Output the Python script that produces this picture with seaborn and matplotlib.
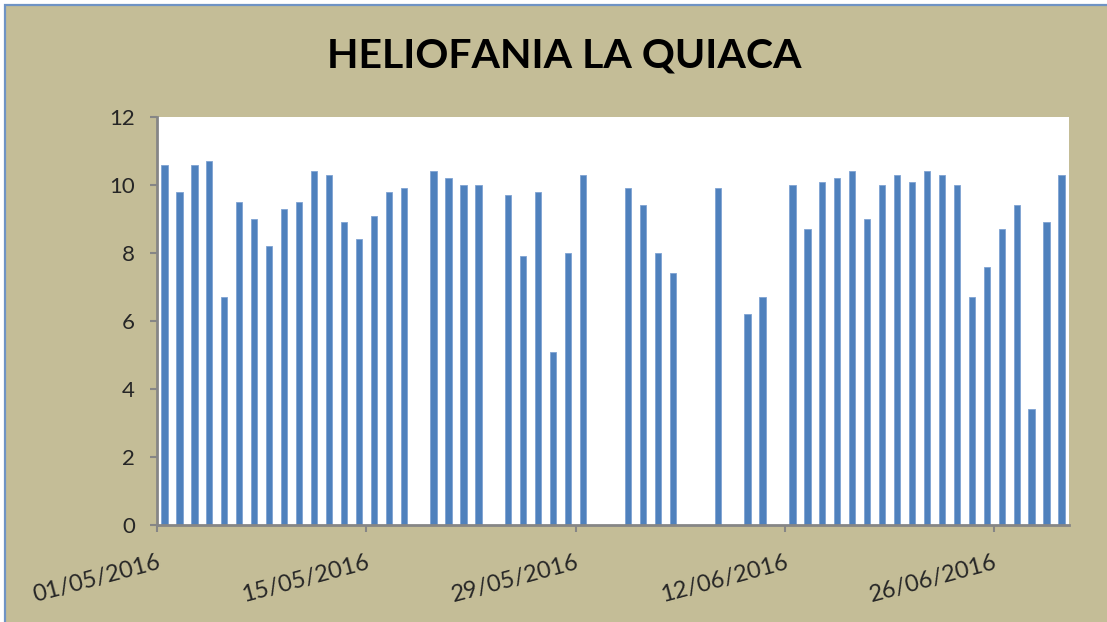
import numpy as np
import pandas as pd
import seaborn as sns
from matplotlib import pyplot as plt
from matplotlib import patches

# daily sunshine hours, La Quiaca, May-June 2016 (None = no data)
days = pd.date_range('2016-05-01', '2016-06-30', freq='D').strftime('%d/%m/%Y').tolist()
heliofania = [10.6, 9.8, 10.6, 10.7, 6.7, 9.5, 9.0, 8.2, 9.3, 9.5,
              10.4, 10.3, 8.9, 8.4, 9.1, 9.8, 9.9, None, 10.4, 10.2,
              10.0, 10.0, None, 9.7, 7.9, 9.8, 5.1, 8.0, 10.3, None,
              None, 9.9, 9.4, 8.0, 7.4, None, None, 9.9, None, 6.2,
              6.7, None, 10.0, 8.7, 10.1, 10.2, 10.4, 9.0, 10.0, 10.3,
              10.1, 10.4, 10.3, 10.0, 6.7, 7.6, 8.7, 9.4, 3.4, 8.9,
              10.3]
tick_labels = ['01/05/2016', '15/05/2016', '29/05/2016', '12/06/2016', '26/06/2016']
y_ticks = [0, 2, 4, 6, 8, 10, 12]

df = pd.DataFrame({'fecha': days, 'horas': heliofania}).dropna()

sns.set_style('white')
plt.rcParams['font.family'] = ['Lato', 'DejaVu Sans']

tan = '#C4BD97'
grey = '#868686'

fig = plt.figure(figsize=(11.07, 6.22), dpi=100, facecolor='white')
# chart frame with blue border (cut at right/bottom like the screenshot)
frame = patches.Rectangle((5 / 1107, -0.05), 1.2, 1 - 5 / 622 + 0.05,
                          transform=fig.transFigure, facecolor=tan,
                          edgecolor='#6F93C4', linewidth=1.6, zorder=-10)
fig.patches.append(frame)

ax = fig.add_axes([157 / 1107, 97 / 622, 912 / 1107, 408 / 622])
ax.set_facecolor('white')
sns.barplot(data=df, x='fecha', y='horas', order=days, color='#4F81BD',
            saturation=1, width=0.42, edgecolor='#7FA3D3', linewidth=0.6, ax=ax)

ax.set_xlim(-0.5, len(days) - 0.5)
ax.set_ylim(0, 12)
ax.set_yticks(y_ticks)
ax.set_yticklabels([str(v) for v in y_ticks], fontsize=16)
pos = [days.index(t) - 0.5 for t in tick_labels]
ax.set_xticks(pos)
ax.set_xticklabels(tick_labels, fontsize=17, rotation=15, ha='right',
                   rotation_mode='anchor')
ax.set_xlabel('')
ax.set_ylabel('')

for s in ['top', 'right']:
    ax.spines[s].set_visible(False)
for s in ['left', 'bottom']:
    ax.spines[s].set_color(grey)
    ax.spines[s].set_linewidth(2)
ax.tick_params(axis='y', direction='out', length=5, width=1.5, color=grey, pad=11, left=True)
ax.tick_params(axis='x', direction='out', length=5, width=1.5, color=grey, pad=14, bottom=True)

fig.text(564 / 1107, 1 - 56 / 622, 'HELIOFANIA LA QUIACA', ha='center', va='center',
         fontsize=29.5, fontweight='bold', color='black')

fig.savefig('out.png', dpi=100, facecolor=fig.get_facecolor())
